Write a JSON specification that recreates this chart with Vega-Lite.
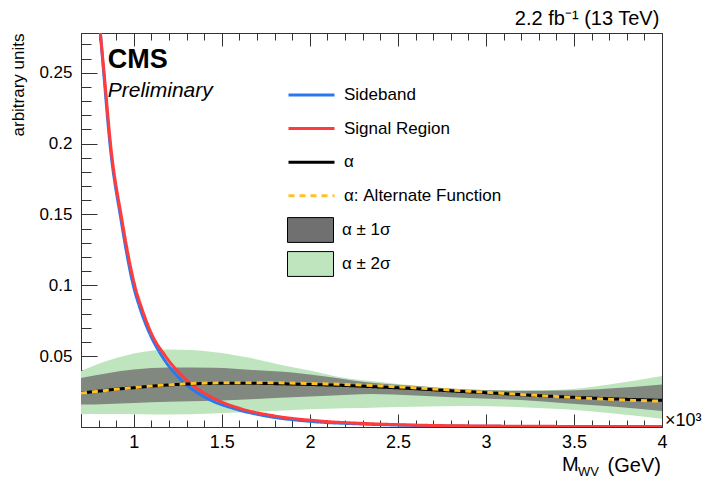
{
  "$schema": "https://vega.github.io/schema/vega-lite/v6.json",
  "width": 581,
  "height": 394,
  "autosize": {"type": "none"},
  "padding": {"left": 81, "top": 33, "right": 42, "bottom": 53},
  "background": "white",
  "config": {
    "view": {"stroke": "#333333", "strokeWidth": 1},
    "font": "Liberation Sans",
    "text": {"font": "Liberation Sans", "color": "#000000"}
  },
  "datasets": {
    "band2": [
      {"x": 0.7, "y": 0.0090, "y2": 0.0395},
      {"x": 0.85, "y": 0.0092, "y2": 0.0468},
      {"x": 1.05, "y": 0.0090, "y2": 0.0530},
      {"x": 1.2, "y": 0.0088, "y2": 0.0547},
      {"x": 1.45, "y": 0.0095, "y2": 0.0530},
      {"x": 1.65, "y": 0.0105, "y2": 0.0490},
      {"x": 1.82, "y": 0.0115, "y2": 0.0442},
      {"x": 2.0, "y": 0.0125, "y2": 0.0398},
      {"x": 2.2, "y": 0.0132, "y2": 0.0345},
      {"x": 2.4, "y": 0.0138, "y2": 0.0318},
      {"x": 2.6, "y": 0.0143, "y2": 0.0292},
      {"x": 2.9, "y": 0.0148, "y2": 0.0262},
      {"x": 3.2, "y": 0.0140, "y2": 0.0258},
      {"x": 3.45, "y": 0.0125, "y2": 0.0265},
      {"x": 3.7, "y": 0.0098, "y2": 0.0300},
      {"x": 4.0, "y": 0.0058, "y2": 0.0360}
    ],
    "band1": [
      {"x": 0.7, "y": 0.0158, "y2": 0.0345},
      {"x": 0.85, "y": 0.0163, "y2": 0.0380},
      {"x": 1.0, "y": 0.0170, "y2": 0.0405},
      {"x": 1.2, "y": 0.0178, "y2": 0.0420},
      {"x": 1.45, "y": 0.0185, "y2": 0.0418},
      {"x": 1.7, "y": 0.0198, "y2": 0.0400},
      {"x": 1.9, "y": 0.0210, "y2": 0.0385},
      {"x": 2.1, "y": 0.0220, "y2": 0.0355},
      {"x": 2.35, "y": 0.0232, "y2": 0.0312},
      {"x": 2.6, "y": 0.0222, "y2": 0.0290},
      {"x": 2.9, "y": 0.0205, "y2": 0.0265},
      {"x": 3.2, "y": 0.0190, "y2": 0.0255},
      {"x": 3.45, "y": 0.0168, "y2": 0.0257},
      {"x": 3.7, "y": 0.0147, "y2": 0.0272},
      {"x": 4.0, "y": 0.0113, "y2": 0.0300}
    ],
    "lines": [
      {"series": "Sideband", "x": 0.795, "y": 0.300},
      {"series": "Sideband", "x": 0.81, "y": 0.278},
      {"series": "Sideband", "x": 0.829, "y": 0.25},
      {"series": "Sideband", "x": 0.866, "y": 0.198},
      {"series": "Sideband", "x": 0.925, "y": 0.148},
      {"series": "Sideband", "x": 0.997, "y": 0.1},
      {"series": "Sideband", "x": 1.04, "y": 0.082},
      {"series": "Sideband", "x": 1.09, "y": 0.066},
      {"series": "Sideband", "x": 1.16, "y": 0.05},
      {"series": "Sideband", "x": 1.275, "y": 0.0325},
      {"series": "Sideband", "x": 1.42, "y": 0.0200},
      {"series": "Sideband", "x": 1.575, "y": 0.0128},
      {"series": "Sideband", "x": 1.75, "y": 0.0078},
      {"series": "Sideband", "x": 2.0, "y": 0.0040},
      {"series": "Sideband", "x": 2.3, "y": 0.0021},
      {"series": "Sideband", "x": 2.6, "y": 0.0011},
      {"series": "Sideband", "x": 3.0, "y": 0.0005},
      {"series": "Sideband", "x": 3.5, "y": 0.0003},
      {"series": "Sideband", "x": 4.0, "y": 0.0002},
      {"series": "Signal Region", "x": 0.795, "y": 0.300},
      {"series": "Signal Region", "x": 0.81, "y": 0.278},
      {"series": "Signal Region", "x": 0.831, "y": 0.25},
      {"series": "Signal Region", "x": 0.869, "y": 0.198},
      {"series": "Signal Region", "x": 0.93, "y": 0.148},
      {"series": "Signal Region", "x": 1.005, "y": 0.1},
      {"series": "Signal Region", "x": 1.05, "y": 0.082},
      {"series": "Signal Region", "x": 1.1, "y": 0.066},
      {"series": "Signal Region", "x": 1.18, "y": 0.05},
      {"series": "Signal Region", "x": 1.3, "y": 0.033},
      {"series": "Signal Region", "x": 1.45, "y": 0.0205},
      {"series": "Signal Region", "x": 1.6, "y": 0.0132},
      {"series": "Signal Region", "x": 1.8, "y": 0.0078},
      {"series": "Signal Region", "x": 2.05, "y": 0.0043},
      {"series": "Signal Region", "x": 2.35, "y": 0.0023},
      {"series": "Signal Region", "x": 2.65, "y": 0.0012},
      {"series": "Signal Region", "x": 3.0, "y": 0.0007},
      {"series": "Signal Region", "x": 3.5, "y": 0.0004},
      {"series": "Signal Region", "x": 4.0, "y": 0.0003},
      {"series": "α", "x": 0.7, "y": 0.0240},
      {"series": "α", "x": 0.8, "y": 0.0253},
      {"series": "α", "x": 0.9, "y": 0.0267},
      {"series": "α", "x": 1.0, "y": 0.0277},
      {"series": "α", "x": 1.1, "y": 0.0288},
      {"series": "α", "x": 1.2, "y": 0.0297},
      {"series": "α", "x": 1.3, "y": 0.0303},
      {"series": "α", "x": 1.45, "y": 0.0308},
      {"series": "α", "x": 1.6, "y": 0.0309},
      {"series": "α", "x": 1.8, "y": 0.0306},
      {"series": "α", "x": 2.0, "y": 0.0300},
      {"series": "α", "x": 2.2, "y": 0.0293},
      {"series": "α", "x": 2.4, "y": 0.0282},
      {"series": "α", "x": 2.6, "y": 0.0270},
      {"series": "α", "x": 2.8, "y": 0.0255},
      {"series": "α", "x": 3.0, "y": 0.0242},
      {"series": "α", "x": 3.2, "y": 0.0228},
      {"series": "α", "x": 3.4, "y": 0.0215},
      {"series": "α", "x": 3.6, "y": 0.0204},
      {"series": "α", "x": 3.8, "y": 0.0195},
      {"series": "α", "x": 4.0, "y": 0.0188},
      {"series": "α: Alternate Function", "x": 0.7, "y": 0.0238},
      {"series": "α: Alternate Function", "x": 0.8, "y": 0.0252},
      {"series": "α: Alternate Function", "x": 0.9, "y": 0.0266},
      {"series": "α: Alternate Function", "x": 1.0, "y": 0.0278},
      {"series": "α: Alternate Function", "x": 1.1, "y": 0.0289},
      {"series": "α: Alternate Function", "x": 1.2, "y": 0.0298},
      {"series": "α: Alternate Function", "x": 1.3, "y": 0.0305},
      {"series": "α: Alternate Function", "x": 1.45, "y": 0.0311},
      {"series": "α: Alternate Function", "x": 1.6, "y": 0.0313},
      {"series": "α: Alternate Function", "x": 1.8, "y": 0.0312},
      {"series": "α: Alternate Function", "x": 2.0, "y": 0.0307},
      {"series": "α: Alternate Function", "x": 2.2, "y": 0.0300},
      {"series": "α: Alternate Function", "x": 2.4, "y": 0.0290},
      {"series": "α: Alternate Function", "x": 2.6, "y": 0.0276},
      {"series": "α: Alternate Function", "x": 2.8, "y": 0.0261},
      {"series": "α: Alternate Function", "x": 3.0, "y": 0.0245},
      {"series": "α: Alternate Function", "x": 3.2, "y": 0.0230},
      {"series": "α: Alternate Function", "x": 3.4, "y": 0.0215},
      {"series": "α: Alternate Function", "x": 3.6, "y": 0.0201},
      {"series": "α: Alternate Function", "x": 3.8, "y": 0.0190},
      {"series": "α: Alternate Function", "x": 4.0, "y": 0.0182}
    ]
  },
  "layer": [
    {
      "data": {"name": "band2"},
      "mark": {"type": "area", "interpolate": "monotone", "clip": true},
      "encoding": {
        "x": {
          "field": "x", "type": "quantitative",
          "scale": {"domain": [0.7, 4], "nice": false, "zero": false},
          "axis": {
            "orient": "bottom",
            "values": [0.7, 0.8, 0.9, 1.0, 1.1, 1.2, 1.3, 1.4, 1.5, 1.6, 1.7, 1.8, 1.9, 2.0, 2.1, 2.2, 2.3, 2.4, 2.5, 2.6, 2.7, 2.8, 2.9, 3.0, 3.1, 3.2, 3.3, 3.4, 3.5, 3.6, 3.7, 3.8, 3.9, 4.0],
            "tickCount": 200,
            "labelExpr": "abs(datum.value*2-round(datum.value*2))<0.001 ? format(datum.value,'~g') : ''",
            "tickSize": {"condition": {"test": "abs(datum.value*2-round(datum.value*2))<0.001", "value": -13}, "value": -7},
            "labelPadding": 19,
            "title": null,
            "grid": false,
            "domainColor": "#333333",
            "tickColor": "#333333",
            "labelFontSize": 18,
            "labelFont": "Liberation Sans",
            "labelColor": "#000000",
            "labelFlush": false,
            "labelOverlap": false
          }
        },
        "y": {
          "field": "y", "type": "quantitative",
          "scale": {"domain": [0, 0.278], "nice": false, "zero": false},
          "title": "arbitrary units",
          "axis": {
            "values": [0.01, 0.02, 0.03, 0.04, 0.05, 0.06, 0.07, 0.08, 0.09, 0.1, 0.11, 0.12, 0.13, 0.14, 0.15, 0.16, 0.17, 0.18, 0.19, 0.2, 0.21, 0.22, 0.23, 0.24, 0.25, 0.26, 0.27],
            "tickCount": 200,
            "labelExpr": "abs(datum.value*20-round(datum.value*20))<0.001 ? format(datum.value,'~g') : ''",
            "tickSize": {"condition": {"test": "abs(datum.value*20-round(datum.value*20))<0.001", "value": -16}, "value": -10},
            "labelPadding": 25,
            "grid": false,
            "domainColor": "#333333",
            "tickColor": "#333333",
            "labelFontSize": 17,
            "labelFont": "Liberation Sans",
            "labelColor": "#000000",
            "labelOverlap": false,
            "labelFlush": false,
            "titleFont": "Liberation Sans",
            "titleFontSize": 17,
            "titleFontWeight": "normal",
            "titleColor": "#000000",
            "titleAngle": -90,
            "titleAlign": "right",
            "titleBaseline": "middle",
            "titleX": -63,
            "titleY": 0
          }
        },
        "y2": {"field": "y2"},
        "fill": {
          "datum": "α ± 2σ", "type": "nominal",
          "scale": {"domain": ["α ± 1σ", "α ± 2σ"], "range": ["#707070", "#bfe5bf"]},
          "legend": {
            "orient": "none", "legendX": 206, "legendY": 182, "title": null,
            "symbolType": "M-1,-0.54H1V0.54H-1Z", "symbolSize": 2116,
            "symbolStrokeColor": "#000000", "symbolStrokeWidth": 1, "symbolOpacity": 1,
            "labelFontSize": 17, "labelFont": "Liberation Sans", "labelColor": "#000000",
            "labelOffset": 8, "clipHeight": 30, "rowPadding": 4
          }
        }
      }
    },
    {
      "data": {"name": "band1"},
      "mark": {"type": "area", "interpolate": "monotone", "clip": true, "opacity": 0.8},
      "encoding": {
        "x": {
          "field": "x", "type": "quantitative",
          "scale": {"domain": [0.7, 4], "nice": false, "zero": false},
          "axis": {
            "orient": "top",
            "values": [0.7, 0.8, 0.9, 1.0, 1.1, 1.2, 1.3, 1.4, 1.5, 1.6, 1.7, 1.8, 1.9, 2.0, 2.1, 2.2, 2.3, 2.4, 2.5, 2.6, 2.7, 2.8, 2.9, 3.0, 3.1, 3.2, 3.3, 3.4, 3.5, 3.6, 3.7, 3.8, 3.9, 4.0],
            "tickCount": 200,
            "labels": false,
            "tickSize": {"condition": {"test": "abs(datum.value*2-round(datum.value*2))<0.001", "value": -13}, "value": -7},
            "title": null,
            "grid": false,
            "domainColor": "#333333",
            "tickColor": "#333333"
          }
        },
        "y": {
          "field": "y", "type": "quantitative",
          "scale": {"domain": [0, 0.278], "nice": false, "zero": false},
          "title": "arbitrary units"
        },
        "y2": {"field": "y2"},
        "fill": {
          "datum": "α ± 1σ", "type": "nominal",
          "scale": {"domain": ["α ± 1σ", "α ± 2σ"], "range": ["#707070", "#bfe5bf"]},
          "legend": {
            "orient": "none", "legendX": 206, "legendY": 182, "title": null,
            "symbolType": "M-1,-0.54H1V0.54H-1Z", "symbolSize": 2116,
            "symbolStrokeColor": "#000000", "symbolStrokeWidth": 1, "symbolOpacity": 1,
            "labelFontSize": 17, "labelFont": "Liberation Sans", "labelColor": "#000000",
            "labelOffset": 8, "clipHeight": 30, "rowPadding": 4
          }
        }
      }
    },
    {
      "data": {"name": "lines"},
      "mark": {"type": "line", "strokeWidth": 3, "clip": true, "interpolate": "monotone"},
      "encoding": {
        "x": {
          "field": "x", "type": "quantitative",
          "scale": {"domain": [0.7, 4], "nice": false, "zero": false},
          "axis": null
        },
        "y": {
          "field": "y", "type": "quantitative",
          "scale": {"domain": [0, 0.278], "nice": false, "zero": false},
          "title": "arbitrary units"
        },
        "stroke": {
          "field": "series", "type": "nominal",
          "scale": {"domain": ["Sideband", "Signal Region", "α", "α: Alternate Function"], "range": ["#2a78f0", "#ff3b3b", "#000000", "#ffc125"]},
          "legend": {
            "orient": "none", "legendX": 206, "legendY": 47, "title": null,
            "symbolType": "stroke", "symbolSize": 2116, "symbolStrokeWidth": 3,
            "labelFontSize": 17, "labelFont": "Liberation Sans", "labelColor": "#000000",
            "labelOffset": 8, "clipHeight": 30, "rowPadding": 3.6
          }
        },
        "strokeDash": {
          "field": "series", "type": "nominal",
          "scale": {"domain": ["Sideband", "Signal Region", "α", "α: Alternate Function"], "range": [[1, 0], [1, 0], [1, 0], [6, 5]]},
          "legend": {
            "orient": "none", "legendX": 206, "legendY": 47, "title": null,
            "symbolType": "stroke", "symbolSize": 2116, "symbolStrokeWidth": 3,
            "labelFontSize": 17, "labelFont": "Liberation Sans", "labelColor": "#000000",
            "labelOffset": 8, "clipHeight": 30, "rowPadding": 3.6
          }
        }
      }
    },
    {
      "data": {"values": [{}]},
      "mark": {"type": "text", "text": "CMS", "fontSize": 27, "fontWeight": "bold", "align": "left", "baseline": "alphabetic"},
      "encoding": {
        "x": {"datum": 0.852, "type": "quantitative", "scale": {"domain": [0.7, 4], "nice": false, "zero": false}, "axis": null},
        "y": {"datum": 0.2531, "type": "quantitative", "scale": {"domain": [0, 0.278], "nice": false, "zero": false}, "title": "arbitrary units"}
      }
    },
    {
      "data": {"values": [{}]},
      "mark": {"type": "text", "text": "Preliminary", "fontSize": 21, "fontStyle": "italic", "align": "left", "baseline": "alphabetic"},
      "encoding": {
        "x": {"datum": 0.852, "type": "quantitative", "scale": {"domain": [0.7, 4], "nice": false, "zero": false}, "axis": null},
        "y": {"datum": 0.2325, "type": "quantitative", "scale": {"domain": [0, 0.278], "nice": false, "zero": false}, "title": "arbitrary units"}
      }
    },
    {
      "data": {"values": [{}]},
      "mark": {"type": "text", "text": "2.2 fb⁻¹ (13 TeV)", "fontSize": 20, "align": "right", "baseline": "alphabetic"},
      "encoding": {
        "x": {"datum": 3.985, "type": "quantitative", "scale": {"domain": [0.7, 4], "nice": false, "zero": false}, "axis": null},
        "y": {"datum": 0.2836, "type": "quantitative", "scale": {"domain": [0, 0.278], "nice": false, "zero": false}, "title": "arbitrary units"}
      }
    },
    {
      "data": {"values": [{}]},
      "mark": {"type": "text", "text": "×10³", "fontSize": 18, "align": "left", "baseline": "alphabetic"},
      "encoding": {
        "x": {"datum": 4.017, "type": "quantitative", "scale": {"domain": [0.7, 4], "nice": false, "zero": false}, "axis": null},
        "y": {"datum": 0.0005, "type": "quantitative", "scale": {"domain": [0, 0.278], "nice": false, "zero": false}, "title": "arbitrary units"}
      }
    },
    {
      "data": {"values": [{}]},
      "mark": {"type": "text", "text": "M", "fontSize": 20, "align": "left", "baseline": "alphabetic"},
      "encoding": {
        "x": {"datum": 3.432, "type": "quantitative", "scale": {"domain": [0.7, 4], "nice": false, "zero": false}, "axis": null},
        "y": {"datum": -0.031, "type": "quantitative", "scale": {"domain": [0, 0.278], "nice": false, "zero": false}, "title": "arbitrary units"}
      }
    },
    {
      "data": {"values": [{}]},
      "mark": {"type": "text", "text": "WV", "fontSize": 13, "align": "left", "baseline": "alphabetic"},
      "encoding": {
        "x": {"datum": 3.523, "type": "quantitative", "scale": {"domain": [0.7, 4], "nice": false, "zero": false}, "axis": null},
        "y": {"datum": -0.0345, "type": "quantitative", "scale": {"domain": [0, 0.278], "nice": false, "zero": false}, "title": "arbitrary units"}
      }
    },
    {
      "data": {"values": [{}]},
      "mark": {"type": "text", "text": "(GeV)", "fontSize": 20, "align": "right", "baseline": "alphabetic"},
      "encoding": {
        "x": {"datum": 3.994, "type": "quantitative", "scale": {"domain": [0.7, 4], "nice": false, "zero": false}, "axis": null},
        "y": {"datum": -0.0315, "type": "quantitative", "scale": {"domain": [0, 0.278], "nice": false, "zero": false}, "title": "arbitrary units"}
      }
    }
  ],
  "resolve": {"axis": {"x": "independent"}}
}
